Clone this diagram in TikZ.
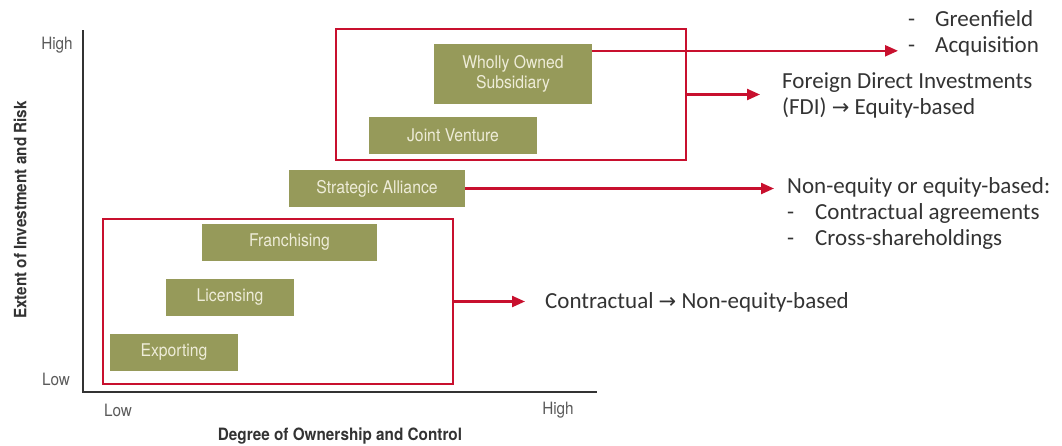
\documentclass[tikz,border=0pt]{standalone}
\usepackage{fontspec}
\setmainfont{Carlito}
\newfontfamily\labelfont[FakeStretch=0.9]{TeX Gyre Heros}
\newfontfamily\arrowfont{DejaVu Sans}
\usetikzlibrary{arrows.meta}

\definecolor{boxgreen}{HTML}{969A5A}
\definecolor{boxtext}{HTML}{EEECD8}
\definecolor{framered}{HTML}{C8102E}
\definecolor{axisgray}{HTML}{5A5A5A}
\definecolor{bodytext}{HTML}{333333}

\begin{document}
\begin{tikzpicture}[x=1pt, y=-1pt,
  mode/.style={fill=boxgreen, text=boxtext, font=\labelfont\fontsize{17.5}{20}\selectfont,
    minimum height=37pt, inner sep=0pt, align=center},
  redframe/.style={draw=framered, line width=2.3pt, inner sep=0pt},
  link/.style={draw=framered, line width=2.3pt, -{Triangle[length=13pt,width=11pt]}},
  note/.style={font=\fontsize{23}{26}\selectfont, text=bodytext, align=left, inner sep=0pt, anchor=west},
  ticklabel/.style={font=\labelfont\fontsize{17}{19}\selectfont, text=axisgray, inner sep=0pt},
  axistitle/.style={font=\labelfont\bfseries\fontsize{17}{19}\selectfont, text=bodytext, inner sep=0pt}]
\useasboundingbox (0,0) rectangle (1062,445);

% Axes
\coordinate (ytop) at (83,30);
\coordinate (origin) at (83,392);
\coordinate (xend) at (597,392);
\draw[line width=2pt, draw=bodytext] (ytop) -- (origin) -- (xend);
\node[ticklabel] (yhi) at (57,45) {High};
\node[ticklabel] (ylo) at (56,379) {Low};
\node[ticklabel] (xlo) at (118,410) {Low};
\node[ticklabel] (xhi) at (558,410) {High};
\node[axistitle] (xtitle) at (340,436) {Degree of Ownership and Control};
\node[axistitle, rotate=90] (ytitle) at (20,210) {Extent of Investment and Risk};

% Entry modes
\node[mode, minimum width=128pt] (exp) at (174,352.5) {Exporting};
\node[mode, minimum width=128pt] (lic) at (230,297.5) {Licensing};
\node[mode, minimum width=175pt] (fra) at (289.5,242.5) {Franchising};
\node[mode, minimum width=176pt] (sa) at (377,188.5) {Strategic Alliance};
\node[mode, minimum width=168pt] (jv) at (453,135.5) {Joint Venture};
\node[mode, minimum width=158pt, minimum height=60pt] (wos) at (513,74) {Wholly Owned\\Subsidiary};

% Groups
\node[redframe, minimum width=350pt, minimum height=131pt] (equity) at (511,94.5) {};
\node[redframe, minimum width=350pt, minimum height=165pt] (contract) at (278,301.5) {};

% Notes
\node[note] (gfa) at (908,33) {\makebox[27pt][l]{-}Greenfield\\\makebox[27pt][l]{-}Acquisition};
\node[note] (fdi) at (782,95.5) {Foreign Direct Investments\\(FDI) {\arrowfont\fontsize{21}{26}\selectfont →} Equity-based};
\node[note] (mixed) at (787,213.5) {Non-equity or equity-based:\\\makebox[28pt][l]{-}Contractual agreements\\\makebox[28pt][l]{-}Cross-shareholdings};
\node[note] (contr) at (545,302) {Contractual {\arrowfont\fontsize{21}{26}\selectfont →} Non-equity-based};

% Arrows
\coordinate (wosout) at ([yshift=-7pt]wos.north east);
\draw[link, shorten >=10pt] (wosout) -- (wosout -| gfa.west);
\draw[link, shorten >=22pt] (equity.east) -- (equity.east -| fdi.west);
\draw[link, shorten >=13pt] (sa.east) -- (sa.east -| mixed.west);
\draw[link, shorten >=20pt] (contract.east) -- (contract.east -| contr.west);
\end{tikzpicture}
\end{document}
